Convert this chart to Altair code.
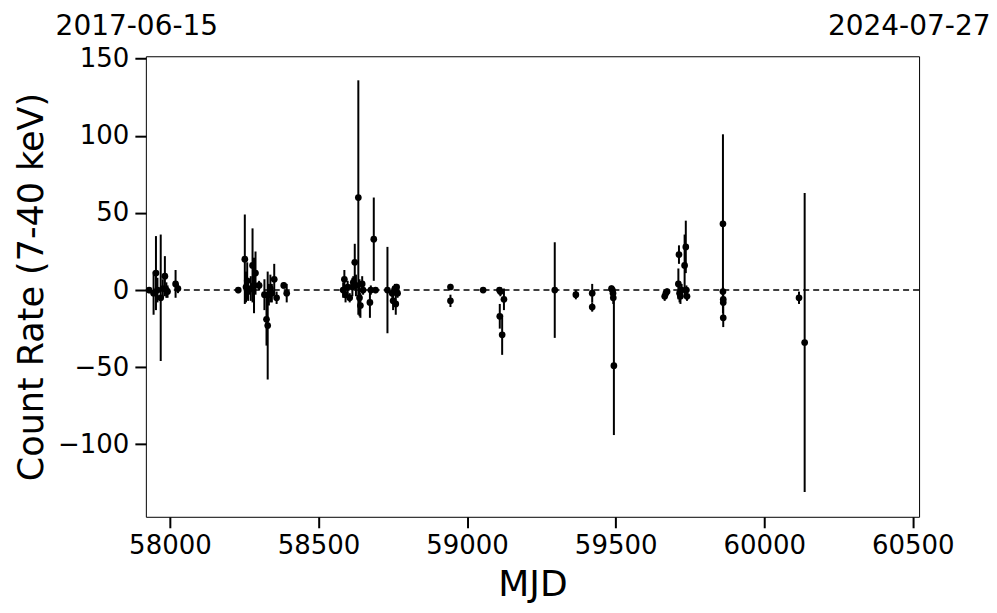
import altair as alt
import pandas as pd

mjd = [57930, 57945, 57953, 57958, 57969, 57976, 57983, 57988, 57992, 58019, 58027,
       58230, 58252, 58256, 58260, 58263, 58272, 58278, 58283, 58288, 58300, 58318,
       58325, 58329, 58333, 58338, 58343, 58351, 58359, 58383, 58393,
       58583, 58587, 58591, 58598, 58605, 58614, 58617, 58622, 58626, 58634, 58638,
       58641, 58647, 58650, 58673, 58676, 58686, 58692, 58732, 58748, 58751, 58757,
       58760, 58763, 58766,
       58944, 58944, 59054, 59109, 59110, 59112, 59118, 59124, 59295, 59366, 59421,
       59421, 59486, 59489, 59491, 59492, 59494,
       59665, 59669, 59673, 59711, 59713, 59715, 59718, 59722, 59732, 59736, 59738, 59740,
       59861, 59861, 59862, 59862, 59862, 60117, 60136]
rate = [0, -2, 11, 0, -5, 1, 9, 0, -1, 4, 1,
        0, 20, 2, 6, -1, 1, 16, 3, 11, 3, -3,
        -19, -23, -3, 1, -2, 7, -5, 3, -2,
        0, 7, -3, 2, -5, 2, 5, 18, 3, 60, -5,
        -10, 4, 0, -8, 0, 33, 0, 0, -2, -7, 1,
        -9, 2, -2,
        2, -7, 0, 0, -17, -1, -29, -6, 0, -3, -2,
        -11, 1, 0, -2, -5, -49,
        -4, -2, -1, 4, 23, -2, -4, 0, 16, 28, 0, -4,
        43, -1, -6, -8, -18, -5, -34]
err = [2, 14, 24, 8, 41, 6, 13, 5, 4, 9, 3,
       2, 29, 10, 12, 6, 8, 24, 18, 14, 3, 10,
       17, 35, 7, 9, 6, 10, 4, 2, 6,
       5, 6, 5, 4, 3, 6, 4, 12, 7, 76, 12,
       8, 5, 3, 10, 3, 27, 2, 28, 3, 6, 3,
       7, 2, 3,
       2, 4, 1, 2, 8, 3, 13, 7, 31, 3, 6,
       3, 2, 2, 3, 4, 45,
       3, 2, 2, 10, 6, 6, 5, 4, 20, 17, 3, 3,
       58, 3, 3, 4, 6, 4, 97]

date_mjd = [57919, 60518]
date_text = ["2017-06-15", "2024-07-27"]

df = pd.DataFrame({"mjd": mjd, "rate": rate, "err": err})
df["lo"] = df["rate"] - df["err"]
df["hi"] = df["rate"] + df["err"]
dates = pd.DataFrame({"mjd": date_mjd, "label": date_text})

FONT = "DejaVu Sans"
xs = alt.Scale(domain=[57919, 60521], nice=False, zero=False)
ys = alt.Scale(domain=[-147, 151.6], nice=False, zero=False)

xax = alt.Axis(values=[58000, 58500, 59000, 59500, 60000, 60500], format="d",
               title="MJD", grid=False, tickSize=11, tickWidth=2, tickColor="black",
               labelFontSize=26, labelFont=FONT, labelColor="black", labelPadding=5,
               titleFontSize=36, titleFont=FONT, titleFontWeight="normal",
               titleColor="black", titlePadding=9, domain=False)
yax = alt.Axis(values=[-100, -50, 0, 50, 100, 150], format="d",
               title="Count Rate (7-40 keV)", grid=False, tickSize=11, tickWidth=2,
               tickColor="black", labelFontSize=26, labelFont=FONT, labelColor="black",
               labelPadding=6, titleFontSize=35, titleFont=FONT, titleFontWeight="normal",
               titleColor="black", titlePadding=8, domain=False)

base = alt.Chart(df)

zero = alt.Chart(pd.DataFrame({"y": [0]})).mark_rule(
    color="black", strokeWidth=1.5, strokeDash=[6, 4]
).encode(y=alt.Y("y:Q", scale=ys, axis=yax))

bars = base.mark_rule(color="black", strokeWidth=2).encode(
    x=alt.X("mjd:Q", scale=xs, axis=xax),
    y=alt.Y("lo:Q", scale=ys, axis=yax),
    y2="hi:Q",
)

pts = base.mark_circle(color="black", size=45, opacity=1).encode(
    x=alt.X("mjd:Q", scale=xs, axis=xax),
    y=alt.Y("rate:Q", scale=ys, axis=yax),
)

top = alt.Chart(dates).mark_text(
    font=FONT, fontSize=28, color="black", baseline="middle", align="center", dx=-9
).encode(
    x=alt.X("mjd:Q", scale=xs, axis=xax),
    y=alt.value(-29),
    text="label:N",
)

chart = alt.layer(zero, bars, pts, top).properties(
    width=774, height=461,
    padding={"left": 138, "top": 48, "right": 70, "bottom": 88},
    autosize=alt.AutoSizeParams(type="none"),
).configure(background="white").configure_view(stroke="black", strokeWidth=1)

chart.save("out.html", embed_options={"renderer": "svg", "actions": False})
